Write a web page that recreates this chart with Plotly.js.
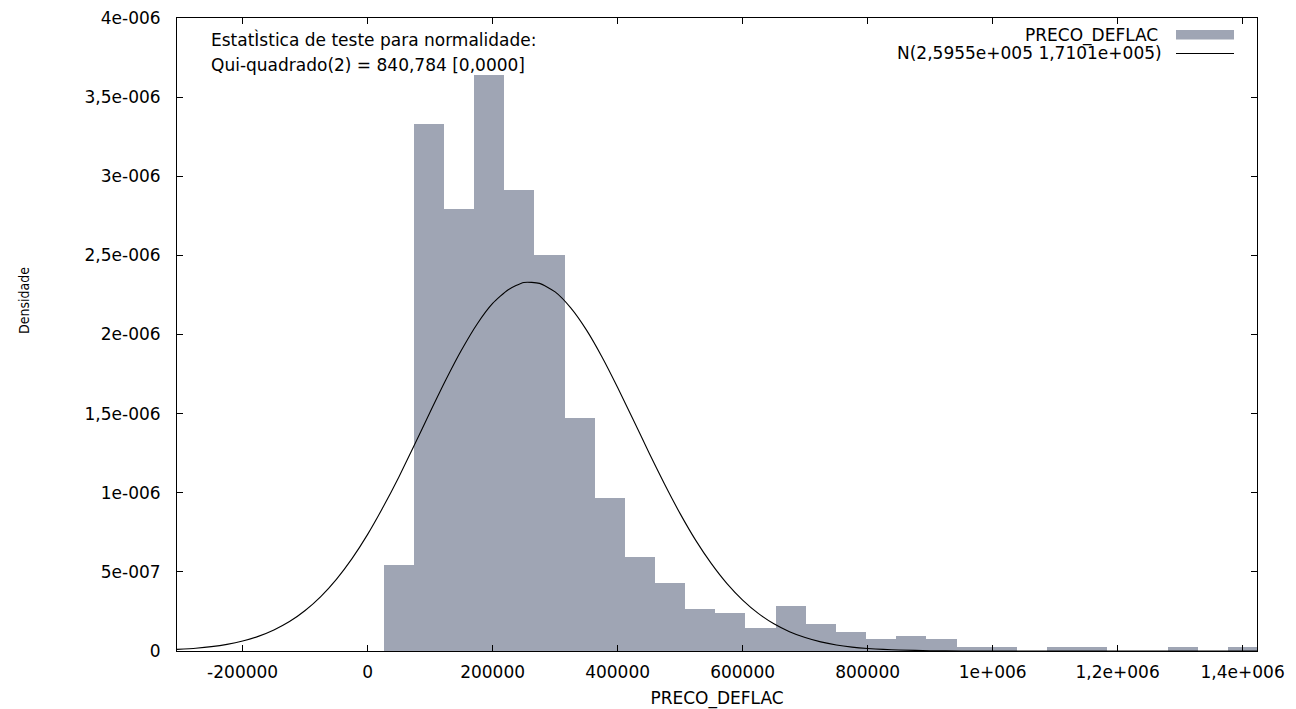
<!DOCTYPE html>
<html><head><meta charset="utf-8">
<script src="https://cdn.plot.ly/plotly-3.0.1.min.js"></script>
<style>html,body{margin:0;padding:0;background:#fff}#chart{width:1296px;height:709px}</style>
</head><body><div id="chart"></div>
<script>
// Histogram (density) of PRECO_DEFLAC
const binCenters = [49700, 97950, 146200, 194450, 242700, 290950, 339200, 387450, 435700, 483950,
  532200, 580450, 628700, 676950, 725200, 773450, 821700, 869950, 918200, 966450,
  1014700, 1062950, 1111200, 1159450, 1207700, 1255950, 1304200, 1352450, 1400700];
const density = [5.43e-7, 3.33e-6, 2.79e-6, 3.64e-6, 2.91e-6, 2.50e-6, 1.47e-6, 9.7e-7, 5.94e-7, 4.28e-7,
  2.63e-7, 2.38e-7, 1.45e-7, 2.84e-7, 1.69e-7, 1.2e-7, 7.4e-8, 9.5e-8, 7.4e-8, 2.5e-8,
  2.5e-8, 0, 2.5e-8, 2.5e-8, 0, 0, 2.5e-8, 0, 2.5e-8];
const binWidth = 48250;

// Normal density curve
const curveX = [-305000, -275000, -250000, -225000, -200000, -175000, -150000, -125000, -100000, -75000,
  -50000, -25000, 0, 25000, 50000, 75000, 100000, 125000, 150000, 175000,
  200000, 225000, 250000, 275000, 300000, 325000, 350000, 375000, 400000, 425000,
  450000, 475000, 500000, 525000, 550000, 575000, 600000, 625000, 650000, 675000,
  700000, 725000, 750000, 775000, 800000, 825000, 850000, 900000, 950000, 1000000, 1200000, 1423000];
const curveY = [1.0e-8, 1.76e-8, 2.75e-8, 4.21e-8, 6.3e-8, 9.24e-8, 1.33e-7, 1.86e-7, 2.56e-7, 3.44e-7,
  4.53e-7, 5.84e-7, 7.37e-7, 9.11e-7, 1.10e-6, 1.303e-6, 1.51e-6, 1.712e-6, 1.90e-6, 2.065e-6,
  2.196e-6, 2.283e-6, 2.329e-6, 2.323e-6, 2.269e-6, 2.168e-6, 2.029e-6, 1.858e-6, 1.665e-6, 1.461e-6,
  1.255e-6, 1.055e-6, 8.68e-7, 6.99e-7, 5.52e-7, 4.26e-7, 3.22e-7, 2.38e-7, 1.72e-7, 1.22e-7,
  8.5e-8, 5.75e-8, 3.8e-8, 2.48e-8, 1.6e-8, 1.0e-8, 6e-9, 2e-9, 0, 0, 0, 0];

const xTickVals = [-200000, 0, 200000, 400000, 600000, 800000, 1000000, 1200000, 1400000];
const xTickText = ['-200000', '0', '200000', '400000', '600000', '800000', '1e+006', '1,2e+006', '1,4e+006'];
const yTickVals = [0, 5e-7, 1e-6, 1.5e-6, 2e-6, 2.5e-6, 3e-6, 3.5e-6, 4e-6];
const yTickText = ['0', '5e-007', '1e-006', '1,5e-006', '2e-006', '2,5e-006', '3e-006', '3,5e-006', '4e-006'];

const seriesName = 'PRECO_DEFLAC';
const normalName = 'N(2,5955e+005 1,7101e+005)';
const testLines = ['Estat\u00CCstica de teste para normalidade:', 'Qui-quadrado(2) = 840,784 [0,0000]'];
const xTitle = 'PRECO_DEFLAC';
const yTitle = 'Densidade';

const FONT = 'DejaVu Sans, Arial, sans-serif';
const BAR = '#9fa5b4';

// pixel helpers for placing annotations in paper coords
const L = 177, R = 39, T = 18, B = 58, W = 1296, H = 709;
const pw = W - L - R, ph = H - T - B;
const px = x => (x - L) / pw;
const py = y => (H - B - y) / ph;

const traces = [
  {type: 'bar', x: binCenters, y: density, width: binWidth, name: seriesName,
   marker: {color: BAR, line: {width: 0}}, showlegend: false, hoverinfo: 'x+y'},
  {type: 'scatter', mode: 'lines', x: curveX, y: curveY, name: normalName,
   line: {color: '#000', width: 1.1, shape: 'spline', smoothing: 0.6}, showlegend: false}
];

const axisCommon = {
  showline: true, linecolor: '#000', linewidth: 1, mirror: 'ticks',
  ticks: 'inside', ticklen: 6, tickcolor: '#000', tickwidth: 1,
  showgrid: false, zeroline: false,
  tickfont: {family: FONT, size: 17, color: '#000'}
};

const layout = {
  width: W, height: H,
  margin: {l: L, r: R, t: T, b: B},
  paper_bgcolor: '#fff', plot_bgcolor: '#fff',
  bargap: 0,
  showlegend: false,
  xaxis: Object.assign({}, axisCommon, {
    range: [-305000, 1423000], tickmode: 'array', tickvals: xTickVals, ticktext: xTickText,
    ticklabelstandoff: 6,
    title: {text: xTitle, font: {family: FONT, size: 17, color: '#000'}, standoff: 14}
  }),
  yaxis: Object.assign({}, axisCommon, {
    range: [0, 4e-6], tickmode: 'array', tickvals: yTickVals, ticktext: yTickText,
    ticklabelstandoff: 12
  }),
  annotations: [
    {xref: 'paper', yref: 'paper', x: px(209), y: py(40), xanchor: 'left', yanchor: 'middle',
     text: testLines[0], showarrow: false, font: {family: FONT, size: 17, color: '#000'}},
    {xref: 'paper', yref: 'paper', x: px(209), y: py(65), xanchor: 'left', yanchor: 'middle',
     text: testLines[1], showarrow: false, font: {family: FONT, size: 17, color: '#000'}},
    {xref: 'paper', yref: 'paper', x: px(1160), y: py(35), xanchor: 'right', yanchor: 'middle',
     text: seriesName, showarrow: false, font: {family: FONT, size: 17, color: '#000'}},
    {xref: 'paper', yref: 'paper', x: px(1164), y: py(53), xanchor: 'right', yanchor: 'middle',
     text: normalName, showarrow: false, font: {family: FONT, size: 17, color: '#000'}},
    {xref: 'paper', yref: 'paper', x: px(24), y: py(301), xanchor: 'center', yanchor: 'middle',
     text: yTitle, textangle: -90, showarrow: false, font: {family: 'DejaVu Sans Condensed, DejaVu Sans, sans-serif', size: 14, color: '#000'}}
  ],
  shapes: [
    {type: 'rect', xref: 'paper', yref: 'paper', x0: px(1176), x1: px(1234), y0: py(30), y1: py(39.5),
     fillcolor: BAR, line: {width: 0}},
    {type: 'line', xref: 'paper', yref: 'paper', x0: px(1176), x1: px(1234), y0: py(53.5), y1: py(53.5),
     line: {color: '#000', width: 1}}
  ]
};

Plotly.newPlot('chart', traces, layout, {displayModeBar: false, staticPlot: true});
</script>
</body></html>
